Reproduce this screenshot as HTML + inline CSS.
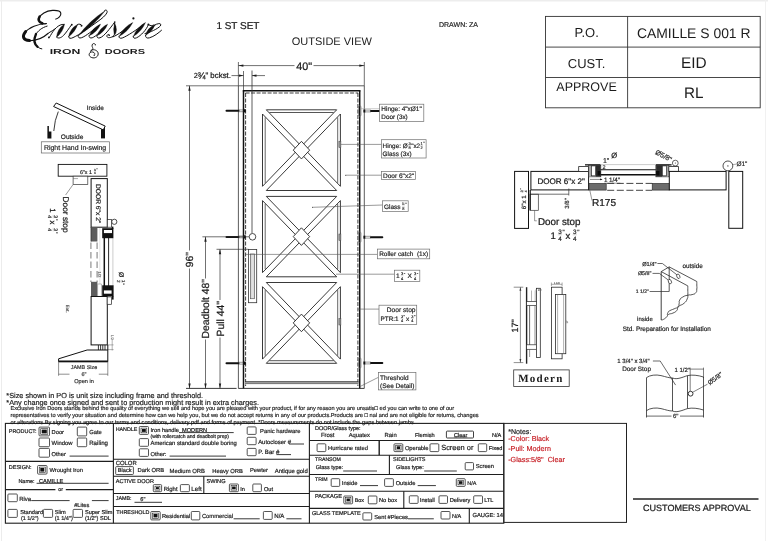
<!DOCTYPE html>
<html lang="en">
<head>
<meta charset="utf-8">
<title>Exclusive Iron Doors - CAMILLE S 001 R</title>
<style>
html,body{margin:0;padding:0;background:#fff;}
body{width:768px;height:541px;overflow:hidden;font-family:"Liberation Sans",sans-serif;}
svg{display:block;position:absolute;left:0;top:0;will-change:transform;}
svg text{font-family:"Liberation Sans",sans-serif;white-space:pre;text-rendering:geometricPrecision;}
</style>
</head>
<body>
<svg width="768" height="541" viewBox="0 0 768 541">
<rect x="0" y="0" width="768" height="541" fill="#ffffff"/>
<g fill="#1c1c1c">
<line x1="1.5" y1="0" x2="1.5" y2="541" stroke="#ececec" stroke-width="1"/>
<line x1="0" y1="0.8" x2="768" y2="0.8" stroke="#ededed" stroke-width="1.6"/>
<line x1="765.5" y1="0" x2="765.5" y2="541" stroke="#f1f1f1" stroke-width="1"/>
<path d="M55.3 19.3 C58.5 18.6 61.3 15.8 60.8 13.2 C60.3 10.8 56.5 10.2 52.5 10.4 C46 10.9 40.5 14.3 38.9 18.3" fill="none" stroke="#111" stroke-width="1.15" />
<path d="M39.6 16.6 C37.8 19.6 38.6 22.2 42.2 23.3" fill="none" stroke="#111" stroke-width="2.6" stroke-linecap="round"/>
<path d="M42 23.3 C43.4 23.7 45 23.9 47 23.6" fill="none" stroke="#111" stroke-width="1" />
<path d="M46 23.8 C38 23.8 29 27.5 25 32.6" fill="none" stroke="#111" stroke-width="1.1" />
<path d="M25.6 31.6 C21.6 36.6 23.4 40.3 29.5 40.6" fill="none" stroke="#111" stroke-width="3" stroke-linecap="round"/>
<path d="M29.5 40.7 C37 40.8 44 37.2 48.6 33" fill="none" stroke="#111" stroke-width="1.1" />
<path d="M47.5 26 C42 27.5 37.5 31 35.6 35" fill="none" stroke="#111" stroke-width="1" />
<path d="M36 34 C33.5 39.5 34 44 37.6 46.9" fill="none" stroke="#111" stroke-width="2.3" stroke-linecap="round"/>
<path d="M37.5 46.8 C39 48 40.5 48.7 42.2 48.9" fill="none" stroke="#111" stroke-width="1" />
<path d="M48.5 33 C51 31.6 53.5 30 56 28.2" fill="none" stroke="#111" stroke-width="1" />
<path d="M64.6 24 Q57.25 28.78 56.4 37.5 Q62.89 32.2 64.6 24 Z" fill="#111" stroke="#111" stroke-width="0.35" />
<path d="M64.2 24.4 C58.5 23.8 53.5 30 50.6 35.4 C50 36.6 49.4 37.4 48.7 37.6" fill="none" stroke="#111" stroke-width="1" />
<circle cx="48.9" cy="37.4" r="0.9" fill="#111" stroke="#1c1c1c" stroke-width="0"/>
<path d="M56.6 37 C58 38.8 61 38 63.4 35.6 C66.4 32.4 69.2 28 71.4 25" fill="none" stroke="#111" stroke-width="1" />
<circle cx="71.8" cy="24.7" r="0.9" fill="#111" stroke="#1c1c1c" stroke-width="0"/>
<path d="M77.4 24.6 C79 23.7 81.2 24.2 81.7 25.6" fill="none" stroke="#111" stroke-width="1" />
<circle cx="81.5" cy="25.8" r="0.95" fill="#111" stroke="#1c1c1c" stroke-width="0"/>
<path d="M77.9 24.2 Q69.98 28.23 68.5 37 Q75.13 32.02 77.9 24.2 Z" fill="#111" stroke="#111" stroke-width="0.35" />
<path d="M68.6 36.4 C68.6 38.6 70.8 38.8 73 37.6 C80 34.5 90 27 98 21.3 C102 18.5 105.6 15.5 106.9 12.8 C107.6 11 106.8 10 105.5 10.1 C104.8 10.2 104.5 10.6 104.5 11.2" fill="none" stroke="#111" stroke-width="1" />
<path d="M105 10.8 Q89.39 20.89 78.3 35.8 Q93.91 25.71 105 10.8 Z" fill="#111" stroke="#111" stroke-width="0.35" />
<path d="M78.2 35.2 C77.8 37.6 79.3 38.4 81.3 37.8 C86 36.3 93 30 99.6 24.9" fill="none" stroke="#111" stroke-width="1" />
<path d="M100.6 24.2 Q92.48 27.62 89.2 35.8 Q97.04 32.1 100.6 24.2 Z" fill="#111" stroke="#111" stroke-width="0.35" />
<path d="M89.1 35.2 C88.8 37.6 90.2 38.4 92.2 37.8 C96 36.5 102 30 106.6 25" fill="none" stroke="#111" stroke-width="1" />
<path d="M107.6 24.2 Q99.79 27.71 97 35.8 Q104.51 32.02 107.6 24.2 Z" fill="#111" stroke="#111" stroke-width="0.35" />
<path d="M96.9 35.2 C96.6 37.6 98 38.4 100 37.8 C104 36.5 110 28.5 114.6 22.2" fill="none" stroke="#111" stroke-width="1" />
<circle cx="114.8" cy="22.1" r="0.8" fill="#111" stroke="#1c1c1c" stroke-width="0"/>
<path d="M114.6 22.5 C114.3 26 116.6 29.5 115.7 32.5 C114.8 35.6 111.5 38 108.5 37.6 C106.8 37.3 106.3 35.8 107.5 34.8 C108.3 34.2 109.3 34.5 109.3 35.4" fill="none" stroke="#111" stroke-width="1" />
<path d="M114.6 23.5 Q112.8 29.19 114.2 35 Q118.4 29.39 114.6 23.5 Z" fill="#111" stroke="#111" stroke-width="0.35" />
<circle cx="109.2" cy="35.3" r="0.8" fill="#111" stroke="#1c1c1c" stroke-width="0"/>
<path d="M112.6 37 C118 35 126 28.6 131.8 23.4" fill="none" stroke="#111" stroke-width="1" />
<path d="M132.8 22.5 Q123.53 27.06 119.1 36.4 Q128.09 31.56 132.8 22.5 Z" fill="#111" stroke="#111" stroke-width="0.35" />
<circle cx="133.4" cy="18.4" r="1.1" fill="#111" stroke="#1c1c1c" stroke-width="0"/>
<path d="M119 35.9 C118.7 38 120.2 38.7 122.2 38 C127 36.3 138 29 144.4 23.6" fill="none" stroke="#111" stroke-width="1" />
<path d="M145.5 22.5 Q136.84 27.21 133.3 36.4 Q141.65 31.43 145.5 22.5 Z" fill="#111" stroke="#111" stroke-width="0.35" />
<path d="M133.2 35.9 C133 38.2 134.5 38.7 136.5 37.8 C141 35.8 146.5 29.5 148.2 25" fill="none" stroke="#111" stroke-width="1" />
<circle cx="148.4" cy="24.4" r="1" fill="#111" stroke="#1c1c1c" stroke-width="0"/>
<path d="M148.6 24.6 C150 26 152.5 25.8 154.2 24.8" fill="none" stroke="#111" stroke-width="1" />
<path d="M144.6 33.6 C150 32.6 158 28.6 160.3 26 C161.5 24.5 160.5 23.4 158.8 23.6 C157 23.8 155.5 24.5 154.3 25.5" fill="none" stroke="#111" stroke-width="1" />
<path d="M155.3 24.6 Q147.55 27.39 145.6 35.4 Q152.31 31.67 155.3 24.6 Z" fill="#111" stroke="#111" stroke-width="0.35" />
<path d="M145.6 34.8 C145.2 37.6 147 38.6 149.5 37.8 C154 36.5 158.5 33 161.8 30" fill="none" stroke="#111" stroke-width="1" />
<text x="49.7" y="53.8" font-size="7.2" font-weight="bold" textLength="30.6" lengthAdjust="spacingAndGlyphs" fill="#1a1a1a">IRON</text>
<text x="104.8" y="53.8" font-size="7.2" font-weight="bold" textLength="40.2" lengthAdjust="spacingAndGlyphs" fill="#1a1a1a">DOORS</text>
<path d="M95.4 44.6 C94.6 43 92.6 43.2 92.1 45 C91.6 47 93.6 48 92.6 49.6 C91.8 50.8 90.2 51 90.2 52.4" fill="none" stroke="#111" stroke-width="0.9" />
<path d="M90.6 50.4 C94 48.6 98.4 50.6 98.2 54 C98 57.6 93.5 59 90.6 57 C88.2 55.3 89 52.6 91.5 52 C93.5 51.6 95 53 94.8 54.6" fill="none" stroke="#111" stroke-width="0.95" />
<circle cx="94.2" cy="55.2" r="0.7" fill="#111" stroke="#1c1c1c" stroke-width="0"/>
<circle cx="95.3" cy="44.8" r="0.6" fill="#111" stroke="#1c1c1c" stroke-width="0"/>
<text x="216.4" y="29.39" font-size="9.96" stroke="#1c1c1c" stroke-width="0.24" >1 ST SET</text>
<text x="291.8" y="44.56" font-size="11.01" >OUTSIDE VIEW</text>
<text x="439" y="27.12" font-size="7" stroke="#1c1c1c" stroke-width="0.18" >DRAWN: ZA</text>
<rect x="545.5" y="16.4" width="214.7" height="91.4" fill="none" stroke="#333" stroke-width="0.9"/>
<line x1="627.6" y1="16.4" x2="627.6" y2="107.8" stroke="#333" stroke-width="0.9"/>
<line x1="545.5" y1="47.1" x2="760.2" y2="47.1" stroke="#333" stroke-width="0.9"/>
<line x1="545.5" y1="77.5" x2="760.2" y2="77.5" stroke="#333" stroke-width="0.9"/>
<text x="586.7" y="37.18" font-size="13" text-anchor="middle" >P.O.</text>
<text x="636.9" y="37.51" font-size="13.92" >CAMILLE S 001 R</text>
<text x="567.8" y="67.57" font-size="12.98" >CUST.</text>
<text x="680.9" y="68.45" font-size="15.42" >EID</text>
<text x="556.3" y="90.6" font-size="12.51" >APPROVE</text>
<text x="684" y="98.49" font-size="15.25" >RL</text>
<polygon points="47.4,126 48.9,126 48.9,131.5 51.4,131.5 51.4,138.4 47.4,138.4" fill="#111" stroke="none" stroke-linejoin="miter"/>
<rect x="101" y="126" width="4" height="12.4" fill="#111" stroke="none"/>
<polygon points="56.2,103 105.2,126.1 103.3,129.9 53.6,106.5" fill="#fff" stroke="#111" stroke-width="1" stroke-linejoin="miter"/>
<path d="M58.3 111.6 Q54.6 120 53.8 131" fill="none" stroke="#222" stroke-width="0.9" />
<text x="86.6" y="109.95" font-size="6.52" stroke="#1c1c1c" stroke-width="0.18" >Inside</text>
<text x="60.8" y="138.86" font-size="6.56" stroke="#1c1c1c" stroke-width="0.18" >Outside</text>
<rect x="41.3" y="141.8" width="68.2" height="11.2" fill="none" stroke="#666" stroke-width="0.7"/>
<text x="44" y="150.09" font-size="6.91" stroke="#1c1c1c" stroke-width="0.18" >Right Hand In-swing</text>
<rect x="58.2" y="164.4" width="48.7" height="11.8" fill="#fff" stroke="#111" stroke-width="0.9"/>
<text x="80" y="173.51" font-size="5.3" stroke="#1c1c1c" stroke-width="0.18" >6"x 1</text>
<text x="94.9" y="170.62" font-size="3" text-anchor="middle" stroke="#1c1c1c" stroke-width="0.14" >3</text>
<line x1="93.88" y1="171.13" x2="95.92" y2="171.13" stroke="#666" stroke-width="0.3"/>
<text x="94.9" y="173.98" font-size="3" text-anchor="middle" stroke="#1c1c1c" stroke-width="0.14" >4</text>
<text x="96.14" y="171.21" font-size="3.8" stroke="#1c1c1c" stroke-width="0.14" >"</text>
<rect x="73.1" y="176.2" width="14.7" height="8.3" fill="#fff" stroke="#333" stroke-width="0.7"/>
<line x1="73.1" y1="178.6" x2="78" y2="178.6" stroke="#555" stroke-width="0.5"/>
<line x1="73.1" y1="184.5" x2="65.6" y2="195" stroke="#555" stroke-width="0.6"/>
<text x="65.5" y="217.59" font-size="8.3" text-anchor="middle" transform="rotate(90 65.5 214.6)" stroke="#1c1c1c" stroke-width="0.24" >Door stop</text>
<g transform="rotate(90 53.8 220.5)">
<text x="41.6" y="224.41" font-size="7.8" stroke="#1c1c1c" stroke-width="0.24" >1</text>
<text x="49.9" y="220.27" font-size="5.1" text-anchor="middle" stroke="#1c1c1c" stroke-width="0.18" >3</text>
<line x1="48.17" y1="221.14" x2="51.63" y2="221.14" stroke="#666" stroke-width="0.3"/>
<text x="49.9" y="225.99" font-size="5.1" text-anchor="middle" stroke="#1c1c1c" stroke-width="0.18" >4</text>
<text x="51.94" y="220.75" font-size="5" stroke="#1c1c1c" stroke-width="0.14" >"</text>
<text x="53.7" y="224.41" font-size="7.8" stroke="#1c1c1c" stroke-width="0.24" >x</text>
<text x="62.9" y="220.27" font-size="5.1" text-anchor="middle" stroke="#1c1c1c" stroke-width="0.18" >3</text>
<line x1="61.17" y1="221.14" x2="64.63" y2="221.14" stroke="#666" stroke-width="0.3"/>
<text x="62.9" y="225.99" font-size="5.1" text-anchor="middle" stroke="#1c1c1c" stroke-width="0.18" >4</text>
<text x="64.94" y="220.75" font-size="5" stroke="#1c1c1c" stroke-width="0.14" >"</text>
</g>
<rect x="91.1" y="178.6" width="16.2" height="48.6" fill="#fff" stroke="#111" stroke-width="1"/>
<text x="98.6" y="206.01" font-size="6.7" text-anchor="middle" transform="rotate(90 98.6 203.6)" stroke="#1c1c1c" stroke-width="0.18" >DOOR 6"x 2"</text>
<rect x="107.3" y="219.4" width="4.3" height="7.8" fill="#fff" stroke="#222" stroke-width="0.7"/>
<circle cx="114.3" cy="221.8" r="2.6" fill="#fff" stroke="#222" stroke-width="0.8"/>
<rect x="91" y="227.2" width="6.4" height="14.3" fill="#5c5c5c" stroke="none"/>
<line x1="91" y1="227.2" x2="91" y2="241.5" stroke="#333" stroke-width="0.8"/>
<line x1="90.9" y1="242.5" x2="90.9" y2="282" stroke="#999" stroke-width="1.3" stroke-dasharray="6.5 3"/>
<line x1="97.1" y1="242.5" x2="97.1" y2="282" stroke="#999" stroke-width="1.3" stroke-dasharray="6.5 3"/>
<line x1="99.8" y1="228" x2="99.8" y2="296" stroke="#ddd" stroke-width="0.8"/>
<line x1="112.9" y1="238" x2="112.9" y2="286" stroke="#ccc" stroke-width="1"/>
<line x1="104.3" y1="237" x2="104.3" y2="286" stroke="#111" stroke-width="1.5"/>
<line x1="108.6" y1="237" x2="108.6" y2="286" stroke="#111" stroke-width="0.9"/>
<rect x="102.2" y="228.2" width="11.2" height="10" fill="#111" stroke="none"/>
<rect x="103.9" y="230" width="8.1" height="3.1" fill="#fff" stroke="none"/>
<rect x="111.6" y="226.6" width="1.8" height="2.4" fill="#111" stroke="none"/>
<rect x="91" y="281.8" width="6.4" height="14.4" fill="#5c5c5c" stroke="none"/>
<rect x="97.8" y="284" width="3.6" height="12.2" fill="#fff" stroke="#777" stroke-width="0.5"/>
<rect x="102.2" y="285.3" width="11.4" height="11.1" fill="#111" stroke="none"/>
<rect x="103.9" y="290.4" width="7.7" height="3.3" fill="#fff" stroke="none"/>
<rect x="111.8" y="296" width="1.8" height="3.6" fill="#111" stroke="none"/>
<text x="99.8" y="276.01" font-size="4.2" text-anchor="middle" fill="#666" transform="rotate(90 99.8 274.5)" stroke="#666" stroke-width="0.14" >1/2</text>
<g transform="rotate(90 121 278)">
<text x="115" y="280.15" font-size="6.8" stroke="#1c1c1c" stroke-width="0.18" >Ø</text>
<text x="124.3" y="277.06" font-size="4.4" text-anchor="middle" stroke="#1c1c1c" stroke-width="0.14" >1</text>
<line x1="122.8" y1="277.8" x2="125.8" y2="277.8" stroke="#666" stroke-width="0.3"/>
<text x="124.3" y="281.98" font-size="4.4" text-anchor="middle" stroke="#1c1c1c" stroke-width="0.14" >2</text>
<text x="126.07" y="277.64" font-size="4.8" stroke="#1c1c1c" stroke-width="0.14" >"</text>
</g>
<rect x="91.1" y="296.5" width="16.2" height="48.4" fill="#fff" stroke="#111" stroke-width="1"/>
<rect x="107.2" y="296.9" width="4.4" height="7.4" fill="#fff" stroke="#222" stroke-width="0.7"/>
<text x="67.9" y="310.46" font-size="4.6" text-anchor="middle" fill="#444" transform="rotate(90 67.9 308.8)" stroke="#444" stroke-width="0.14" >Ext.</text>
<line x1="98.4" y1="345" x2="98.4" y2="350" stroke="#222" stroke-width="0.9"/>
<line x1="100.6" y1="345" x2="100.6" y2="350" stroke="#222" stroke-width="0.9"/>
<line x1="102.8" y1="345" x2="102.8" y2="350" stroke="#222" stroke-width="0.9"/>
<line x1="105" y1="345" x2="105" y2="350" stroke="#222" stroke-width="0.9"/>
<line x1="112.2" y1="339" x2="112.2" y2="350.5" stroke="#666" stroke-width="0.5"/>
<line x1="107.8" y1="344.9" x2="113.6" y2="344.9" stroke="#666" stroke-width="0.5"/>
<line x1="107.8" y1="349.6" x2="113.6" y2="349.6" stroke="#666" stroke-width="0.5"/>
<text x="112.4" y="338.5" font-size="3.6" text-anchor="middle" fill="#666" transform="rotate(90 112.4 337.2)" stroke="#666" stroke-width="0.14" >1/2</text>
<path d="M107.8 344.9 V361.6 H58.6 V358.8 L87.1 350 H107.8" fill="none" stroke="#111" stroke-width="1" />
<line x1="58.6" y1="361.4" x2="107.8" y2="361.4" stroke="#111" stroke-width="1.6"/>
<line x1="58.6" y1="361.6" x2="58.6" y2="375.8" stroke="#444" stroke-width="0.6"/>
<line x1="107.8" y1="361.6" x2="107.8" y2="375.8" stroke="#444" stroke-width="0.6"/>
<line x1="58.6" y1="374.2" x2="69.5" y2="374.2" stroke="#444" stroke-width="0.6"/>
<line x1="98.8" y1="374.2" x2="107.8" y2="374.2" stroke="#444" stroke-width="0.6"/>
<text x="84" y="368.94" font-size="5.4" text-anchor="middle" fill="#333" stroke="#333" stroke-width="0.18" >JAMB Size</text>
<text x="84" y="375.84" font-size="5.4" text-anchor="middle" fill="#333" stroke="#333" stroke-width="0.18" >6"</text>
<text x="84" y="383.02" font-size="5.6" text-anchor="middle" fill="#333" stroke="#333" stroke-width="0.18" >Open in</text>
<line x1="238.4" y1="85.8" x2="238.4" y2="388.4" stroke="#333" stroke-width="0.8"/>
<line x1="364.3" y1="85.8" x2="364.3" y2="388.4" stroke="#333" stroke-width="0.8"/>
<line x1="238.4" y1="85.8" x2="364.3" y2="85.8" stroke="#333" stroke-width="0.8"/>
<line x1="243.5" y1="90.6" x2="243.5" y2="388.4" stroke="#111" stroke-width="1.5"/>
<line x1="359.7" y1="90.6" x2="359.7" y2="388.4" stroke="#111" stroke-width="1.5"/>
<line x1="242.8" y1="90.8" x2="360.4" y2="90.8" stroke="#111" stroke-width="1.5"/>
<line x1="245.6" y1="93" x2="245.6" y2="386" stroke="#1c1c1c" stroke-width="0.85" stroke-dasharray="4 1.5"/>
<line x1="357.9" y1="93" x2="357.9" y2="386" stroke="#1c1c1c" stroke-width="0.85" stroke-dasharray="4 1.5"/>
<line x1="245.6" y1="93" x2="358" y2="93" stroke="#1c1c1c" stroke-width="0.85" stroke-dasharray="4 1.5"/>
<line x1="245" y1="381.7" x2="358.5" y2="381.7" stroke="#333" stroke-width="0.9"/>
<line x1="245" y1="383.6" x2="358.5" y2="383.6" stroke="#555" stroke-width="0.9"/>
<line x1="245" y1="382.6" x2="358.5" y2="382.6" stroke="#999" stroke-width="1.2"/>
<line x1="238.4" y1="388.4" x2="364.3" y2="388.4" stroke="#222" stroke-width="0.9"/>
<line x1="186" y1="388.4" x2="236.6" y2="388.4" stroke="#222" stroke-width="0.9"/>
<polygon points="266.3,109.8 336.7,109.8 301.45,146.21" fill="none" stroke="#222" stroke-width="0.9" stroke-linejoin="miter"/>
<polygon points="266.3,190.5 336.7,190.5 301.45,154.09" fill="none" stroke="#222" stroke-width="0.9" stroke-linejoin="miter"/>
<polygon points="262.5,114 262.5,186.3 297.4,150.15" fill="none" stroke="#222" stroke-width="0.9" stroke-linejoin="miter"/>
<polygon points="340.4,114 340.4,186.3 305.5,150.15" fill="none" stroke="#222" stroke-width="0.9" stroke-linejoin="miter"/>
<line x1="265.2" y1="117.4" x2="265.2" y2="182.9" stroke="#333" stroke-width="0.75"/>
<line x1="337.7" y1="117.4" x2="337.7" y2="182.9" stroke="#333" stroke-width="0.75"/>
<line x1="269.41" y1="112.5" x2="333.59" y2="112.5" stroke="#2a2a2a" stroke-width="0.8"/>
<polygon points="293.25,150.15 301.45,141.35 309.65,150.15 301.45,158.95" fill="#fff" stroke="#222" stroke-width="0.9" stroke-linejoin="miter"/>
<polygon points="266.3,196.4 336.7,196.4 301.45,232.68" fill="none" stroke="#222" stroke-width="0.9" stroke-linejoin="miter"/>
<polygon points="266.3,276.8 336.7,276.8 301.45,240.52" fill="none" stroke="#222" stroke-width="0.9" stroke-linejoin="miter"/>
<polygon points="262.5,200.6 262.5,272.6 297.38,236.6" fill="none" stroke="#222" stroke-width="0.9" stroke-linejoin="miter"/>
<polygon points="340.4,200.6 340.4,272.6 305.52,236.6" fill="none" stroke="#222" stroke-width="0.9" stroke-linejoin="miter"/>
<line x1="265.2" y1="203.99" x2="265.2" y2="269.21" stroke="#333" stroke-width="0.75"/>
<line x1="337.7" y1="203.99" x2="337.7" y2="269.21" stroke="#333" stroke-width="0.75"/>
<polygon points="293.25,236.6 301.45,227.8 309.65,236.6 301.45,245.4" fill="#fff" stroke="#222" stroke-width="0.9" stroke-linejoin="miter"/>
<polygon points="266.3,282.5 336.7,282.5 301.45,318.96" fill="none" stroke="#222" stroke-width="0.9" stroke-linejoin="miter"/>
<polygon points="266.3,363.3 336.7,363.3 301.45,326.84" fill="none" stroke="#222" stroke-width="0.9" stroke-linejoin="miter"/>
<polygon points="262.5,286.7 262.5,359.1 297.4,322.9" fill="none" stroke="#222" stroke-width="0.9" stroke-linejoin="miter"/>
<polygon points="340.4,286.7 340.4,359.1 305.5,322.9" fill="none" stroke="#222" stroke-width="0.9" stroke-linejoin="miter"/>
<line x1="265.2" y1="290.1" x2="265.2" y2="355.7" stroke="#333" stroke-width="0.75"/>
<line x1="337.7" y1="290.1" x2="337.7" y2="355.7" stroke="#333" stroke-width="0.75"/>
<line x1="269.31" y1="360.7" x2="333.69" y2="360.7" stroke="#2a2a2a" stroke-width="0.8"/>
<polygon points="293.25,322.9 301.45,314.1 309.65,322.9 301.45,331.7" fill="#fff" stroke="#222" stroke-width="0.9" stroke-linejoin="miter"/>
<rect x="338.9" y="141.2" width="2" height="6.4" fill="#999" stroke="#444" stroke-width="0.5"/>
<rect x="338.9" y="234" width="2" height="6.4" fill="#999" stroke="#444" stroke-width="0.5"/>
<rect x="338.9" y="318.6" width="2" height="6.4" fill="#999" stroke="#444" stroke-width="0.5"/>
<line x1="226.5" y1="110.8" x2="238.5" y2="110.8" stroke="#111" stroke-width="2" stroke-linecap="round"/>
<line x1="238.5" y1="109.9" x2="244" y2="109.9" stroke="#333" stroke-width="0.5"/>
<line x1="238.5" y1="111.7" x2="244" y2="111.7" stroke="#333" stroke-width="0.5"/>
<rect x="243.6" y="109.2" width="2.2" height="3.2" fill="#111" stroke="none"/>
<line x1="226.5" y1="236.9" x2="238.5" y2="236.9" stroke="#111" stroke-width="2" stroke-linecap="round"/>
<line x1="238.5" y1="236" x2="244" y2="236" stroke="#333" stroke-width="0.5"/>
<line x1="238.5" y1="237.8" x2="244" y2="237.8" stroke="#333" stroke-width="0.5"/>
<rect x="243.6" y="235.3" width="2.2" height="3.2" fill="#111" stroke="none"/>
<line x1="226.5" y1="363.2" x2="238.5" y2="363.2" stroke="#111" stroke-width="2" stroke-linecap="round"/>
<line x1="238.5" y1="362.3" x2="244" y2="362.3" stroke="#333" stroke-width="0.5"/>
<line x1="238.5" y1="364.1" x2="244" y2="364.1" stroke="#333" stroke-width="0.5"/>
<rect x="243.6" y="361.6" width="2.2" height="3.2" fill="#111" stroke="none"/>
<rect x="358.4" y="105.8" width="2.6" height="10.4" fill="none" stroke="#666" stroke-width="0.6" rx="1.2"/>
<rect x="363.4" y="109.5" width="1.9" height="3" fill="#111" stroke="none"/>
<line x1="365" y1="110.1" x2="371" y2="110.1" stroke="#333" stroke-width="0.5"/>
<line x1="365" y1="111.9" x2="371" y2="111.9" stroke="#333" stroke-width="0.5"/>
<line x1="371" y1="111" x2="381.5" y2="111" stroke="#111" stroke-width="2" stroke-linecap="round"/>
<rect x="358.4" y="232" width="2.6" height="10.4" fill="none" stroke="#666" stroke-width="0.6" rx="1.2"/>
<rect x="363.4" y="235.7" width="1.9" height="3" fill="#111" stroke="none"/>
<line x1="365" y1="236.3" x2="371" y2="236.3" stroke="#333" stroke-width="0.5"/>
<line x1="365" y1="238.1" x2="371" y2="238.1" stroke="#333" stroke-width="0.5"/>
<line x1="371" y1="237.2" x2="382.3" y2="237.2" stroke="#111" stroke-width="2" stroke-linecap="round"/>
<rect x="358.4" y="357.8" width="2.6" height="10.4" fill="none" stroke="#666" stroke-width="0.6" rx="1.2"/>
<rect x="363.4" y="361.5" width="1.9" height="3" fill="#111" stroke="none"/>
<line x1="365" y1="362.1" x2="371" y2="362.1" stroke="#333" stroke-width="0.5"/>
<line x1="365" y1="363.9" x2="371" y2="363.9" stroke="#333" stroke-width="0.5"/>
<line x1="371" y1="363" x2="382.3" y2="363" stroke="#111" stroke-width="2" stroke-linecap="round"/>
<line x1="252" y1="70.5" x2="252" y2="233.4" stroke="#333" stroke-width="0.8"/>
<circle cx="252.5" cy="236.8" r="3.3" fill="#fff" stroke="#222" stroke-width="0.8"/>
<rect x="248.5" y="249.4" width="8.2" height="53.3" fill="#fff" stroke="#333" stroke-width="0.8"/>
<rect x="250.5" y="254" width="4" height="44.7" fill="#fff" stroke="#555" stroke-width="0.7"/>
<line x1="251.8" y1="255" x2="251.8" y2="298" stroke="#999" stroke-width="0.5"/>
<line x1="253.2" y1="255" x2="253.2" y2="298" stroke="#999" stroke-width="0.5"/>
<line x1="238.4" y1="62" x2="238.4" y2="85.8" stroke="#333" stroke-width="0.7"/>
<line x1="364.3" y1="62" x2="364.3" y2="85.8" stroke="#333" stroke-width="0.7"/>
<line x1="238.4" y1="65.6" x2="294.5" y2="65.6" stroke="#333" stroke-width="0.7"/>
<line x1="313.5" y1="65.6" x2="364.3" y2="65.6" stroke="#333" stroke-width="0.7"/>
<polygon points="238.4,65.6 243.4,64.4 243.4,66.8" fill="#1c1c1c" stroke="none" stroke-linejoin="miter"/>
<polygon points="364.3,65.6 359.3,66.8 359.3,64.4" fill="#1c1c1c" stroke="none" stroke-linejoin="miter"/>
<text x="296.2" y="69.88" font-size="10.77" stroke="#1c1c1c" stroke-width="0.24" >40"</text>
<text x="193.8" y="78.46" font-size="7.4" stroke="#1c1c1c" stroke-width="0.18" >2</text>
<text x="197.6" y="78.86" font-size="9.6" stroke="#1c1c1c" stroke-width="0.24" >¾</text>
<text x="205.4" y="78.04" font-size="7.89" stroke="#1c1c1c" stroke-width="0.24" >" bckst.</text>
<line x1="231.5" y1="75.6" x2="243.5" y2="75.6" stroke="#333" stroke-width="0.7"/>
<polygon points="243.5,75.6 239,76.8 239,74.4" fill="#1c1c1c" stroke="none" stroke-linejoin="miter"/>
<line x1="243.5" y1="71" x2="243.5" y2="90" stroke="#333" stroke-width="0.7"/>
<line x1="252" y1="75.6" x2="265" y2="75.6" stroke="#333" stroke-width="0.7"/>
<polygon points="252,75.6 256.5,74.4 256.5,76.8" fill="#1c1c1c" stroke="none" stroke-linejoin="miter"/>
<line x1="186" y1="85.8" x2="238.4" y2="85.8" stroke="#333" stroke-width="0.7"/>
<line x1="189.5" y1="85.8" x2="189.5" y2="250.5" stroke="#333" stroke-width="0.7"/>
<line x1="189.5" y1="268.5" x2="189.5" y2="388.4" stroke="#333" stroke-width="0.7"/>
<polygon points="189.5,85.8 190.7,90.8 188.3,90.8" fill="#1c1c1c" stroke="none" stroke-linejoin="miter"/>
<polygon points="189.5,388.4 188.3,383.4 190.7,383.4" fill="#1c1c1c" stroke="none" stroke-linejoin="miter"/>
<text x="189.5" y="263.31" font-size="10.3" text-anchor="middle" transform="rotate(-90 189.5 259.6)" stroke="#1c1c1c" stroke-width="0.24" >96"</text>
<line x1="202.4" y1="236.8" x2="249" y2="236.8" stroke="#333" stroke-width="0.7"/>
<line x1="205.5" y1="236.8" x2="205.5" y2="278.5" stroke="#333" stroke-width="0.7"/>
<line x1="205.5" y1="339.5" x2="205.5" y2="388.4" stroke="#333" stroke-width="0.7"/>
<polygon points="205.5,236.8 206.7,241.8 204.3,241.8" fill="#1c1c1c" stroke="none" stroke-linejoin="miter"/>
<polygon points="205.5,388.4 204.3,383.4 206.7,383.4" fill="#1c1c1c" stroke="none" stroke-linejoin="miter"/>
<text x="205.5" y="312.51" font-size="10.3" text-anchor="middle" transform="rotate(-90 205.5 308.8)" stroke="#1c1c1c" stroke-width="0.24" >Deadbolt 48"</text>
<line x1="216.5" y1="249.3" x2="248.5" y2="249.3" stroke="#333" stroke-width="0.7"/>
<line x1="220" y1="249.3" x2="220" y2="300" stroke="#333" stroke-width="0.7"/>
<line x1="220" y1="337.5" x2="220" y2="388.4" stroke="#333" stroke-width="0.7"/>
<polygon points="220,249.3 221.2,254.3 218.8,254.3" fill="#1c1c1c" stroke="none" stroke-linejoin="miter"/>
<polygon points="220,388.4 218.8,383.4 221.2,383.4" fill="#1c1c1c" stroke="none" stroke-linejoin="miter"/>
<text x="220" y="322.44" font-size="10.4" text-anchor="middle" transform="rotate(-90 220 318.7)" stroke="#1c1c1c" stroke-width="0.24" >Pull 44"</text>
<line x1="360.5" y1="108.7" x2="379.5" y2="108.7" stroke="#999" stroke-width="0.5"/>
<rect x="379.5" y="104.2" width="44.3" height="17.2" fill="#fff" stroke="#6e6e6e" stroke-width="0.7"/>
<text x="381.3" y="111.03" font-size="6.46" stroke="#1c1c1c" stroke-width="0.18" >Hinge: 4"xØ1"</text>
<text x="381.3" y="118.79" font-size="6.35" stroke="#1c1c1c" stroke-width="0.18" >Door (3x)</text>
<line x1="340.9" y1="144.4" x2="381.5" y2="144.4" stroke="#555" stroke-width="0.6"/>
<rect x="381.5" y="139.7" width="44.6" height="18.3" fill="#fff" stroke="#6e6e6e" stroke-width="0.7"/>
<text x="382.6" y="147.89" font-size="6.35" stroke="#1c1c1c" stroke-width="0.18" >Hinge: Ø</text>
<text x="409.6" y="144.59" font-size="3.9" text-anchor="middle" stroke="#1c1c1c" stroke-width="0.14" >3</text>
<line x1="408.27" y1="145.25" x2="410.93" y2="145.25" stroke="#666" stroke-width="0.3"/>
<text x="409.6" y="148.95" font-size="3.9" text-anchor="middle" stroke="#1c1c1c" stroke-width="0.14" >8</text>
<text x="411.2" y="147.89" font-size="6.35" stroke="#1c1c1c" stroke-width="0.18" >"x2</text>
<text x="421.6" y="144.59" font-size="3.9" text-anchor="middle" stroke="#1c1c1c" stroke-width="0.14" >1</text>
<line x1="420.27" y1="145.25" x2="422.93" y2="145.25" stroke="#666" stroke-width="0.3"/>
<text x="421.6" y="148.95" font-size="3.9" text-anchor="middle" stroke="#1c1c1c" stroke-width="0.14" >2</text>
<text x="423.18" y="145.3" font-size="4.8" stroke="#1c1c1c" stroke-width="0.14" >"</text>
<text x="382.6" y="155.59" font-size="6.35" stroke="#1c1c1c" stroke-width="0.18" >Glass (3x)</text>
<line x1="345.7" y1="175.2" x2="381.5" y2="175.2" stroke="#555" stroke-width="0.6"/>
<circle cx="345.7" cy="175.2" r="0.5" fill="#333" stroke="#1c1c1c" stroke-width="0"/>
<rect x="381.5" y="171.6" width="34.1" height="7.8" fill="#fff" stroke="#6e6e6e" stroke-width="0.7"/>
<text x="383" y="177.96" font-size="6.54" stroke="#1c1c1c" stroke-width="0.18" >Door 6"x2"</text>
<line x1="312.5" y1="207.3" x2="382.6" y2="205" stroke="#555" stroke-width="0.6"/>
<circle cx="312.5" cy="207.3" r="0.5" fill="#333" stroke="#1c1c1c" stroke-width="0"/>
<rect x="382.6" y="200.8" width="25.6" height="10.8" fill="#fff" stroke="#6e6e6e" stroke-width="0.7"/>
<text x="384" y="208.94" font-size="6.5" stroke="#1c1c1c" stroke-width="0.18" >Glass</text>
<text x="403.4" y="205.36" font-size="4" text-anchor="middle" stroke="#1c1c1c" stroke-width="0.14" >5</text>
<line x1="402.04" y1="206.04" x2="404.76" y2="206.04" stroke="#666" stroke-width="0.3"/>
<text x="403.4" y="209.84" font-size="4" text-anchor="middle" stroke="#1c1c1c" stroke-width="0.14" >8</text>
<text x="405.02" y="206.05" font-size="4.8" stroke="#1c1c1c" stroke-width="0.14" >"</text>
<line x1="246" y1="254.4" x2="377.4" y2="254.4" stroke="#555" stroke-width="0.6"/>
<rect x="377.4" y="249.1" width="52.3" height="9.7" fill="#fff" stroke="#6e6e6e" stroke-width="0.7"/>
<text x="379.2" y="256.23" font-size="6.48" stroke="#1c1c1c" stroke-width="0.18" >Roller catch  (1x)</text>
<line x1="336" y1="274.2" x2="394.4" y2="274.2" stroke="#555" stroke-width="0.6"/>
<rect x="394.4" y="270.2" width="25.4" height="11.4" fill="#fff" stroke="#6e6e6e" stroke-width="0.7"/>
<text x="396" y="278.38" font-size="6.6" stroke="#1c1c1c" stroke-width="0.18" >1</text>
<text x="402.1" y="275.16" font-size="4" text-anchor="middle" stroke="#1c1c1c" stroke-width="0.14" >3</text>
<line x1="400.74" y1="275.84" x2="403.46" y2="275.84" stroke="#666" stroke-width="0.3"/>
<text x="402.1" y="279.64" font-size="4" text-anchor="middle" stroke="#1c1c1c" stroke-width="0.14" >4</text>
<text x="403.72" y="275.63" font-size="4.2" stroke="#1c1c1c" stroke-width="0.14" >"</text>
<text x="407.4" y="278.38" font-size="6.6" stroke="#1c1c1c" stroke-width="0.18" >X</text>
<text x="415.2" y="275.16" font-size="4" text-anchor="middle" stroke="#1c1c1c" stroke-width="0.14" >3</text>
<line x1="413.84" y1="275.84" x2="416.56" y2="275.84" stroke="#666" stroke-width="0.3"/>
<text x="415.2" y="279.64" font-size="4" text-anchor="middle" stroke="#1c1c1c" stroke-width="0.14" >4</text>
<text x="416.82" y="275.63" font-size="4.2" stroke="#1c1c1c" stroke-width="0.14" >"</text>
<line x1="358" y1="309.1" x2="379" y2="309.1" stroke="#555" stroke-width="0.6"/>
<rect x="379" y="305.2" width="37.7" height="19.2" fill="#fff" stroke="#6e6e6e" stroke-width="0.7"/>
<text x="386.8" y="311.79" font-size="6.64" stroke="#1c1c1c" stroke-width="0.18" >Door stop</text>
<text x="380.5" y="320.8" font-size="6.4" stroke="#1c1c1c" stroke-width="0.18" >PTR:1</text>
<text x="402" y="317.69" font-size="3.9" text-anchor="middle" stroke="#1c1c1c" stroke-width="0.14" >3</text>
<line x1="400.67" y1="318.35" x2="403.33" y2="318.35" stroke="#666" stroke-width="0.3"/>
<text x="402" y="322.05" font-size="3.9" text-anchor="middle" stroke="#1c1c1c" stroke-width="0.14" >4</text>
<text x="403.58" y="318.15" font-size="4.1" stroke="#1c1c1c" stroke-width="0.14" >"</text>
<text x="405.9" y="320.8" font-size="6.4" stroke="#1c1c1c" stroke-width="0.18" >x</text>
<text x="412.3" y="317.69" font-size="3.9" text-anchor="middle" stroke="#1c1c1c" stroke-width="0.14" >3</text>
<line x1="410.97" y1="318.35" x2="413.63" y2="318.35" stroke="#666" stroke-width="0.3"/>
<text x="412.3" y="322.05" font-size="3.9" text-anchor="middle" stroke="#1c1c1c" stroke-width="0.14" >4</text>
<text x="413.88" y="318.15" font-size="4.1" stroke="#1c1c1c" stroke-width="0.14" >"</text>
<line x1="359.5" y1="386.8" x2="378.4" y2="377.3" stroke="#555" stroke-width="0.6"/>
<rect x="378.4" y="372.6" width="37.5" height="17.3" fill="#fff" stroke="#6e6e6e" stroke-width="0.7"/>
<text x="380" y="379.52" font-size="6.45" stroke="#1c1c1c" stroke-width="0.18" >Threshold</text>
<text x="380" y="387.55" font-size="6.52" stroke="#1c1c1c" stroke-width="0.18" >(See Detail)</text>
<rect x="514.6" y="171.4" width="13.9" height="57" fill="#fff" stroke="#111" stroke-width="1"/>
<g transform="rotate(-90 523.6 196)">
<text x="510.4" y="198.23" font-size="6.2" stroke="#1c1c1c" stroke-width="0.18" >6"x 1</text>
<text x="528.4" y="195.12" font-size="3.4" text-anchor="middle" stroke="#1c1c1c" stroke-width="0.14" >3</text>
<line x1="527.24" y1="195.69" x2="529.56" y2="195.69" stroke="#666" stroke-width="0.3"/>
<text x="528.4" y="198.92" font-size="3.4" text-anchor="middle" stroke="#1c1c1c" stroke-width="0.14" >4</text>
<text x="529.79" y="195.74" font-size="4.2" stroke="#1c1c1c" stroke-width="0.14" >"</text>
</g>
<rect x="530.9" y="171.4" width="57.7" height="18.5" fill="#fff" stroke="#111" stroke-width="1"/>
<text x="537.4" y="183.91" font-size="8.08" stroke="#1c1c1c" stroke-width="0.24" >DOOR 6"x 2"</text>
<rect x="530" y="194.2" width="8.3" height="16.1" fill="#fff" stroke="#333" stroke-width="0.7"/>
<line x1="530" y1="194.2" x2="568.8" y2="194.2" stroke="#333" stroke-width="0.7"/>
<line x1="568.8" y1="188.5" x2="568.8" y2="195.5" stroke="#333" stroke-width="0.7"/>
<line x1="530.2" y1="189.9" x2="530.2" y2="210.3" stroke="#111" stroke-width="1.2"/>
<text x="567" y="205.56" font-size="6" text-anchor="middle" transform="rotate(-90 567 203.4)" stroke="#1c1c1c" stroke-width="0.18" >3/8"</text>
<path d="M534.6 210.3 V220.8 H536.8" fill="none" stroke="#555" stroke-width="0.6" />
<text x="537.9" y="224.94" font-size="9.83" stroke="#1c1c1c" stroke-width="0.24" >Door stop</text>
<text x="550.4" y="238.86" font-size="9.6" stroke="#1c1c1c" stroke-width="0.24" >1</text>
<text x="559.9" y="233.76" font-size="6.3" text-anchor="middle" stroke="#1c1c1c" stroke-width="0.18" >3</text>
<line x1="557.76" y1="234.83" x2="562.04" y2="234.83" stroke="#666" stroke-width="0.3"/>
<text x="559.9" y="240.82" font-size="6.3" text-anchor="middle" stroke="#1c1c1c" stroke-width="0.18" >4</text>
<text x="562.39" y="234.36" font-size="6.2" stroke="#1c1c1c" stroke-width="0.18" >"</text>
<text x="565.4" y="239.06" font-size="9.6" stroke="#1c1c1c" stroke-width="0.24" >x</text>
<text x="574.7" y="233.76" font-size="6.3" text-anchor="middle" stroke="#1c1c1c" stroke-width="0.18" >3</text>
<line x1="572.56" y1="234.83" x2="576.84" y2="234.83" stroke="#666" stroke-width="0.3"/>
<text x="574.7" y="240.82" font-size="6.3" text-anchor="middle" stroke="#1c1c1c" stroke-width="0.18" >4</text>
<text x="577.19" y="234.36" font-size="6.2" stroke="#1c1c1c" stroke-width="0.18" >"</text>
<text x="591.9" y="205.63" font-size="10.08" stroke="#1c1c1c" stroke-width="0.24" >R175</text>
<line x1="592" y1="200.5" x2="589.8" y2="190.2" stroke="#555" stroke-width="0.6"/>
<rect x="588.9" y="183.4" width="17.3" height="6.7" fill="#6c6c6c" stroke="#222" stroke-width="0.6"/>
<text x="603.9" y="182.26" font-size="6.28" stroke="#1c1c1c" stroke-width="0.18" >1 1/4"</text>
<line x1="604" y1="183.2" x2="620.4" y2="183.2" stroke="#444" stroke-width="0.5"/>
<line x1="590" y1="179.4" x2="602" y2="179.4" stroke="#333" stroke-width="0.6"/>
<polygon points="602.6,179.4 600,180.3 600,178.5" fill="#1c1c1c" stroke="none" stroke-linejoin="miter"/>
<rect x="578.7" y="166.6" width="9.7" height="4.8" fill="#fff" stroke="#222" stroke-width="0.8"/>
<rect x="588.7" y="165.2" width="12.1" height="11.6" fill="#fff" stroke="#222" stroke-width="0.7"/>
<rect x="589" y="165.4" width="2.4" height="11.2" fill="#a8a8a8" stroke="none"/>
<rect x="595.8" y="165.4" width="4.8" height="11.2" fill="#2c2c2c" stroke="none"/>
<rect x="597.6" y="171" width="3" height="4.4" fill="#0c0c0c" stroke="none"/>
<rect x="591.6" y="165.9" width="3.9" height="9.9" fill="#fff" stroke="#222" stroke-width="0.7"/>
<rect x="585" y="164.2" width="15.6" height="1.3" fill="#1a1a1a" stroke="none"/>
<line x1="600.5" y1="164.6" x2="657" y2="164.6" stroke="#b5b5b5" stroke-width="0.7"/>
<line x1="600.5" y1="169.8" x2="657" y2="169.8" stroke="#111" stroke-width="1.1"/>
<line x1="600.5" y1="174.7" x2="657" y2="174.7" stroke="#111" stroke-width="1.5"/>
<line x1="607.2" y1="183.4" x2="652" y2="183.4" stroke="#222" stroke-width="0.85" stroke-dasharray="7 2.6"/>
<line x1="607.2" y1="190.3" x2="652" y2="190.3" stroke="#222" stroke-width="0.85" stroke-dasharray="7 2.6"/>
<text x="602.9" y="163.32" font-size="7" stroke="#1c1c1c" stroke-width="0.18" >1"</text>
<text x="602.6" y="169.34" font-size="5.4" stroke="#1c1c1c" stroke-width="0.18" >2</text>
<text x="611.2" y="158.24" font-size="7.6" stroke="#1c1c1c" stroke-width="0.24" >Ø</text>
<rect x="655.9" y="165.2" width="12.9" height="11.6" fill="#fff" stroke="#222" stroke-width="0.7"/>
<rect x="656.1" y="165.4" width="5.9" height="11.2" fill="#2c2c2c" stroke="none"/>
<rect x="656.1" y="171" width="3.3" height="4.4" fill="#0c0c0c" stroke="none"/>
<rect x="666.6" y="165.4" width="2" height="11.2" fill="#a8a8a8" stroke="none"/>
<rect x="662.6" y="165.9" width="3.8" height="9.9" fill="#fff" stroke="#222" stroke-width="0.7"/>
<rect x="656.1" y="164.2" width="15.5" height="1.3" fill="#1a1a1a" stroke="none"/>
<rect x="668.8" y="166.6" width="9.6" height="4.8" fill="#fff" stroke="#222" stroke-width="0.8"/>
<circle cx="675.3" cy="163.1" r="2.9" fill="#fff" stroke="#222" stroke-width="0.7"/>
<circle cx="675.3" cy="163.1" r="0.5" fill="#222" stroke="#1c1c1c" stroke-width="0"/>
<text x="663.7" y="158.22" font-size="7" text-anchor="middle" transform="rotate(28 663.7 155.7)" stroke="#1c1c1c" stroke-width="0.18" >Ø5/8"</text>
<rect x="652.2" y="183.4" width="17.1" height="6.7" fill="#6c6c6c" stroke="#222" stroke-width="0.6"/>
<rect x="669.3" y="171.4" width="56.8" height="18.5" fill="#fff" stroke="#111" stroke-width="1"/>
<circle cx="727.9" cy="165.9" r="4.9" fill="#fff" stroke="#222" stroke-width="0.8"/>
<circle cx="727.9" cy="165.9" r="0.6" fill="#222" stroke="#1c1c1c" stroke-width="0"/>
<line x1="732.8" y1="164.6" x2="736" y2="164.2" stroke="#555" stroke-width="0.5"/>
<text x="736.4" y="166.32" font-size="6.45" stroke="#1c1c1c" stroke-width="0.18" >Ø1"</text>
<rect x="728.8" y="171.4" width="13.9" height="56.9" fill="#fff" stroke="#111" stroke-width="1"/>
<text x="642.2" y="265.54" font-size="5.67" stroke="#1c1c1c" stroke-width="0.18" >Ø1/4"</text>
<text x="682.4" y="268.28" font-size="6.33" stroke="#1c1c1c" stroke-width="0.18" >outside</text>
<text x="637.9" y="274.74" font-size="5.39" stroke="#1c1c1c" stroke-width="0.18" >Ø5/8"</text>
<text x="635.7" y="292.84" font-size="5.12" stroke="#1c1c1c" stroke-width="0.18" >1 1/2"</text>
<text x="637.1" y="321.16" font-size="6.01" stroke="#1c1c1c" stroke-width="0.18" >inside</text>
<text x="622.7" y="331.42" font-size="6.43" stroke="#1c1c1c" stroke-width="0.18" >Std. Preparation for Installation</text>
<path d="M657.4 263.5 H662.4 L677.4 275.2" fill="none" stroke="#2a2a2a" stroke-width="0.7" />
<path d="M652.5 273.4 H659.3 L668.8 280.4" fill="none" stroke="#2a2a2a" stroke-width="0.7" />
<line x1="649.6" y1="291.5" x2="669.2" y2="291.5" stroke="#2a2a2a" stroke-width="0.7"/>
<line x1="661.2" y1="271.6" x2="661.2" y2="320" stroke="#2a2a2a" stroke-width="0.9"/>
<line x1="669.2" y1="266.9" x2="669.2" y2="291.5" stroke="#2a2a2a" stroke-width="0.8"/>
<line x1="661.2" y1="271.6" x2="669.2" y2="266.9" stroke="#2a2a2a" stroke-width="0.8"/>
<line x1="661.2" y1="271.6" x2="687.8" y2="285.9" stroke="#2a2a2a" stroke-width="0.8"/>
<line x1="669.2" y1="266.9" x2="696.8" y2="281.5" stroke="#2a2a2a" stroke-width="0.8"/>
<path d="M687.8 285.9 C687.8 287.27 687.8 287.1 687.8 290 C687.8 292.9 688 291.63 687.8 294.6 C687.6 297.57 688.43 296.03 687.2 298.9 C685.97 301.77 686.6 300.93 684.1 303.2 C681.6 305.47 681.77 304.23 679.7 305.7 C677.63 307.17 678.93 305.93 677.9 307.6 C676.87 309.27 678.27 308.87 676.6 310.7 C674.93 312.53 675.57 311.87 672.9 313.1 C670.23 314.33 670.67 313.13 668.6 314.4 C666.53 315.67 668.37 315.27 666.7 316.9 C665.03 318.53 665.43 318.27 663.6 319.3 C661.77 320.33 662 319.77 661.2 320" fill="none" stroke="#2a2a2a" stroke-width="0.8" />
<path d="M696.8 281.5 C696.8 282.67 696.8 282.5 696.8 285 C696.8 287.5 697.13 286.43 696.8 289 C696.47 291.57 697.37 290.83 695.8 292.7 C694.23 294.57 694.77 293.77 692.1 294.6 C689.43 295.43 690.9 294.4 687.8 295.2 C684.7 296 685.5 295.37 682.8 297 C680.1 298.63 680.93 297.83 679.7 300.1 C678.47 302.37 679.7 301.53 679.1 303.8 C678.5 306.07 679.53 305.23 677.9 306.9 C676.27 308.57 676.9 307.53 674.2 308.8 C671.5 310.07 671.87 309.47 669.8 310.7 C667.73 311.93 668.83 311.07 668 312.5 C667.17 313.93 667.53 314.17 667.3 315" fill="none" stroke="#2a2a2a" stroke-width="0.8" />
<ellipse cx="678.3" cy="276.3" rx="1.5" ry="2.3" transform="rotate(-22 678.3 276.3)" fill="#fff" stroke="#2a2a2a" stroke-width="0.7"/>
<ellipse cx="669.9" cy="281.6" rx="1.5" ry="2.3" transform="rotate(-22 669.9 281.6)" fill="#fff" stroke="#2a2a2a" stroke-width="0.7"/>
<text x="514.6" y="329.24" font-size="9" text-anchor="middle" transform="rotate(-90 514.6 326)" stroke="#1c1c1c" stroke-width="0.24" >17"</text>
<line x1="520.4" y1="287.2" x2="520.4" y2="362.6" stroke="#444" stroke-width="0.6"/>
<line x1="513.7" y1="287.2" x2="523.3" y2="287.2" stroke="#444" stroke-width="0.6"/>
<line x1="513.7" y1="362.6" x2="523.3" y2="362.6" stroke="#444" stroke-width="0.6"/>
<polygon points="520.4,287.2 521.3,290.7 519.5,290.7" fill="#333" stroke="none" stroke-linejoin="miter"/>
<polygon points="520.4,362.6 519.5,359.1 521.3,359.1" fill="#333" stroke="none" stroke-linejoin="miter"/>
<line x1="526.6" y1="287.2" x2="526.6" y2="363.7" stroke="#222" stroke-width="1.4"/>
<rect x="536.6" y="288.3" width="3.7" height="69.2" fill="#fff" stroke="#2a2a2a" stroke-width="0.8"/>
<rect x="526.6" y="301.6" width="10" height="4" fill="#fff" stroke="#2a2a2a" stroke-width="0.7"/>
<rect x="526.6" y="344.8" width="10" height="4.5" fill="#fff" stroke="#2a2a2a" stroke-width="0.7"/>
<line x1="529.6" y1="305.6" x2="529.6" y2="344.8" stroke="#2a2a2a" stroke-width="0.7"/>
<line x1="535" y1="305.6" x2="535" y2="344.8" stroke="#444" stroke-width="0.6"/>
<line x1="535.2" y1="290.5" x2="535.2" y2="301.6" stroke="#666" stroke-width="0.5"/>
<line x1="531.5" y1="290.5" x2="531.5" y2="301.6" stroke="#666" stroke-width="0.5"/>
<line x1="529.6" y1="349.3" x2="529.6" y2="357" stroke="#555" stroke-width="0.6"/>
<text x="538.5" y="290.54" font-size="2.6" text-anchor="middle" fill="#666" stroke="#666" stroke-width="0.14" >1 1/2</text>
<rect x="551.4" y="287.2" width="10.7" height="71.6" fill="none" stroke="#2a2a2a" stroke-width="0.8"/>
<rect x="555.4" y="294.5" width="10.4" height="59.2" fill="#fff" stroke="#2a2a2a" stroke-width="0.8"/>
<line x1="557.6" y1="294.5" x2="557.6" y2="353.7" stroke="#666" stroke-width="0.5"/>
<line x1="563.6" y1="294.5" x2="563.6" y2="353.7" stroke="#666" stroke-width="0.5"/>
<line x1="551.4" y1="284.3" x2="562.1" y2="284.3" stroke="#555" stroke-width="0.5"/>
<line x1="551.4" y1="282.5" x2="551.4" y2="286" stroke="#555" stroke-width="0.5"/>
<line x1="562.1" y1="282.5" x2="562.1" y2="286" stroke="#555" stroke-width="0.5"/>
<text x="556.8" y="283.94" font-size="2.6" text-anchor="middle" fill="#555" stroke="#555" stroke-width="0.14" >1 1/2</text>
<text x="566.8" y="322.94" font-size="2.6" text-anchor="middle" fill="#777" transform="rotate(-90 566.8 322)" stroke="#777" stroke-width="0.14" >17</text>
<rect x="513.7" y="369.9" width="55.5" height="16.6" fill="none" stroke="#333" stroke-width="0.8"/>
<text x="518.2" y="381.6" font-size="11" style="font-family:'Liberation Serif',serif" font-weight="bold" letter-spacing="1.25" >Modern</text>
<text x="617.3" y="363.16" font-size="6" stroke="#1c1c1c" stroke-width="0.18" >1 3/4" x 3/4"</text>
<text x="622.2" y="371" font-size="6.4" stroke="#1c1c1c" stroke-width="0.18" >Door Stop</text>
<path d="M652.9 361 H660.2 L675.6 385.1" fill="none" stroke="#2a2a2a" stroke-width="0.7" />
<text x="674.4" y="371.76" font-size="6.01" stroke="#1c1c1c" stroke-width="0.18" >1 1/2"</text>
<line x1="690.2" y1="369.1" x2="703.5" y2="369.1" stroke="#2a2a2a" stroke-width="0.6"/>
<line x1="690.2" y1="367.6" x2="690.2" y2="391.5" stroke="#2a2a2a" stroke-width="0.6"/>
<line x1="703.5" y1="367.6" x2="703.5" y2="378" stroke="#2a2a2a" stroke-width="0.6"/>
<path d="M646.5 377.6 C650 375 656 374.4 661 375.6 C666 376.8 669 378 672.5 378 C677 380 683 377 687.5 375.6 C692 374.6 698 375.2 703.5 377" fill="none" stroke="#2a2a2a" stroke-width="0.8" />
<path d="M646.5 410.6 C650 408 656 407.4 661 408.6 C666 409.8 669 411 672.5 411 C677 413 683 410 687.5 408.6 C692 407.6 698 408.2 703.5 410" fill="none" stroke="#2a2a2a" stroke-width="0.8" />
<line x1="646.5" y1="377.6" x2="646.5" y2="417.5" stroke="#2a2a2a" stroke-width="0.8"/>
<line x1="703.5" y1="377" x2="703.5" y2="417.5" stroke="#2a2a2a" stroke-width="0.8"/>
<line x1="672.5" y1="378" x2="672.5" y2="411" stroke="#2a2a2a" stroke-width="0.8"/>
<line x1="687.5" y1="375.6" x2="687.5" y2="408.6" stroke="#2a2a2a" stroke-width="0.8"/>
<circle cx="690.6" cy="393.7" r="2.4" fill="#fff" stroke="#2a2a2a" stroke-width="0.95"/>
<line x1="692.4" y1="392.4" x2="707.5" y2="384.2" stroke="#2a2a2a" stroke-width="0.6"/>
<text x="715" y="380.78" font-size="6.6" text-anchor="middle" transform="rotate(-36 715 378.4)" stroke="#1c1c1c" stroke-width="0.18" >Ø5/8"</text>
<line x1="646.5" y1="416.1" x2="671.5" y2="416.1" stroke="#2a2a2a" stroke-width="0.7"/>
<line x1="680" y1="416.1" x2="703.5" y2="416.1" stroke="#2a2a2a" stroke-width="0.7"/>
<text x="675.7" y="417.76" font-size="6" text-anchor="middle" stroke="#1c1c1c" stroke-width="0.18" >6"</text>
<text x="6.3" y="397.53" font-size="7.32" stroke="#1c1c1c" stroke-width="0.18" >*Size shown in PO is unit size including frame and threshold.</text>
<text x="6.3" y="404.73" font-size="7.3" stroke="#1c1c1c" stroke-width="0.18" >*Any change once signed and sent to production might result in extra charges.</text>
<text x="10.5" y="410.44" font-size="5.67" fill="#262626" stroke="#262626" stroke-width="0.18" >Exclusive Iron Doors stands behind the quality of everything we sell and hope you are pleased with your product, if for any reason you are unsatis□ ed you can write to one of our</text>
<text x="10.5" y="417.34" font-size="5.68" fill="#262626" stroke="#262626" stroke-width="0.18" >representatives to verify your situation and determine how can we help you, but we do not accept returns in any of our products.Products are □ nal and are not eligible for returns, changes</text>
<text x="10.5" y="424.03" font-size="5.65" fill="#262626" stroke="#262626" stroke-width="0.18" >or alterations.By signing you agree to our terms and conditions, delivery pdf and forms of payment. *Doors measurements do not include the gaps between jambs.</text>
<rect x="5.4" y="423.4" width="498.4" height="99.8" fill="none" stroke="#1e1e1e" stroke-width="1.1"/>
<line x1="113.4" y1="423.4" x2="113.4" y2="523.2" stroke="#1e1e1e" stroke-width="1.1"/>
<line x1="309.4" y1="423.4" x2="309.4" y2="523.2" stroke="#1e1e1e" stroke-width="1.1"/>
<line x1="5.4" y1="461.4" x2="113.4" y2="461.4" stroke="#1e1e1e" stroke-width="1.1"/>
<line x1="5.4" y1="489.6" x2="55.4" y2="489.6" stroke="#1e1e1e" stroke-width="1.1"/>
<line x1="65.8" y1="489.6" x2="113.4" y2="489.6" stroke="#1e1e1e" stroke-width="1.1"/>
<text x="60.6" y="491.34" font-size="5.4" text-anchor="middle" stroke="#1c1c1c" stroke-width="0.2">or</text>
<text x="8.8" y="432.66" font-size="5.44" stroke="#1c1c1c" stroke-width="0.2">PRODUCT:</text>
<rect x="39" y="427.1" width="10.5" height="8.8" fill="#fff" stroke="#2a2a2a" stroke-width="0.8" rx="0.9"/>
<rect x="40.7" y="428.7" width="7.1" height="5.6" fill="#fff" stroke="#222" stroke-width="0.6"/>
<rect x="41.7" y="429.6" width="5.1" height="3.8" fill="#111" stroke="none"/>
<text x="51.6" y="433.76" font-size="5.72" stroke="#1c1c1c" stroke-width="0.2">Door</text>
<rect x="77.3" y="427.1" width="9.4" height="8.8" fill="#fff" stroke="#2a2a2a" stroke-width="0.8" rx="0.9"/>
<text x="89.2" y="433.79" font-size="5.81" stroke="#1c1c1c" stroke-width="0.2">Gate</text>
<rect x="39" y="438" width="10.5" height="8.7" fill="#fff" stroke="#2a2a2a" stroke-width="0.8" rx="0.9"/>
<text x="51.6" y="444.93" font-size="5.9" stroke="#1c1c1c" stroke-width="0.2">Window</text>
<rect x="77.3" y="438" width="9.4" height="8.7" fill="#fff" stroke="#2a2a2a" stroke-width="0.8" rx="0.9"/>
<text x="89.2" y="445.01" font-size="6.15" stroke="#1c1c1c" stroke-width="0.2">Railing</text>
<rect x="39" y="448.4" width="10.5" height="8.8" fill="#fff" stroke="#2a2a2a" stroke-width="0.8" rx="0.9"/>
<text x="51.6" y="455.64" font-size="5.68" stroke="#1c1c1c" stroke-width="0.2">Other</text>
<line x1="69.6" y1="456.1" x2="108.6" y2="456.1" stroke="#222" stroke-width="0.9"/>
<text x="8.8" y="469.18" font-size="5.5" stroke="#1c1c1c" stroke-width="0.2">DESIGN:</text>
<rect x="37.6" y="465.5" width="9.4" height="8.6" fill="#fff" stroke="#2a2a2a" stroke-width="0.8" rx="0.9"/>
<rect x="39.3" y="467.1" width="6" height="5.4" fill="#fff" stroke="#222" stroke-width="0.6"/>
<rect x="40.3" y="468" width="4" height="3.6" fill="#111" stroke="none"/>
<text x="49.5" y="472.49" font-size="5.81" stroke="#1c1c1c" stroke-width="0.2">Wrought Iron</text>
<text x="18.4" y="482.78" font-size="5.5" stroke="#1c1c1c" stroke-width="0.2">Name:</text>
<text x="39" y="482.85" font-size="5.7" stroke="#1c1c1c" stroke-width="0.2">CAMILLE</text>
<line x1="36.6" y1="483.3" x2="108.6" y2="483.3" stroke="#222" stroke-width="0.9"/>
<rect x="7.9" y="494" width="9.4" height="7.7" fill="#fff" stroke="#2a2a2a" stroke-width="0.8" rx="0.9"/>
<text x="19.2" y="500.76" font-size="6" stroke="#1c1c1c" stroke-width="0.2">Riva</text>
<line x1="31.3" y1="500.6" x2="69.6" y2="500.6" stroke="#222" stroke-width="0.9"/>
<line x1="91.9" y1="500.6" x2="108.6" y2="500.6" stroke="#222" stroke-width="0.9"/>
<text x="74.2" y="507.25" font-size="5.7" stroke="#1c1c1c" stroke-width="0.2">#Lites</text>
<rect x="7.9" y="509.4" width="9.4" height="8" fill="#fff" stroke="#2a2a2a" stroke-width="0.8" rx="0.9"/>
<text x="20.3" y="514.13" font-size="5.64" stroke="#1c1c1c" stroke-width="0.2">Standard</text>
<text x="20.9" y="520.36" font-size="5.45" stroke="#1c1c1c" stroke-width="0.2">(1 1/2")</text>
<rect x="43.4" y="509.4" width="9.2" height="8" fill="#fff" stroke="#2a2a2a" stroke-width="0.8" rx="0.9"/>
<text x="54.7" y="514.16" font-size="5.71" stroke="#1c1c1c" stroke-width="0.2">Slim</text>
<text x="54.7" y="520.41" font-size="5.58" stroke="#1c1c1c" stroke-width="0.2">(1 1/4")</text>
<rect x="73.1" y="509.4" width="9.4" height="8" fill="#fff" stroke="#2a2a2a" stroke-width="0.8" rx="0.9"/>
<text x="85" y="514.12" font-size="5.6" stroke="#1c1c1c" stroke-width="0.2">Super Slim</text>
<text x="85" y="520.4" font-size="5.57" stroke="#1c1c1c" stroke-width="0.2">(1/2") SDL</text>
<line x1="113.4" y1="459.3" x2="309.4" y2="459.3" stroke="#1e1e1e" stroke-width="1.1"/>
<line x1="113.4" y1="476.2" x2="309.4" y2="476.2" stroke="#1e1e1e" stroke-width="1.1"/>
<line x1="113.4" y1="493.5" x2="309.4" y2="493.5" stroke="#1e1e1e" stroke-width="1.1"/>
<line x1="113.4" y1="506.5" x2="309.4" y2="506.5" stroke="#1e1e1e" stroke-width="1.1"/>
<line x1="203.8" y1="476.2" x2="203.8" y2="493.5" stroke="#1e1e1e" stroke-width="1.1"/>
<text x="115.7" y="430.53" font-size="5.35" stroke="#1c1c1c" stroke-width="0.2">HANDLE</text>
<rect x="139.3" y="426.5" width="9.2" height="7.9" fill="#fff" stroke="#2a2a2a" stroke-width="0.8" rx="0.9"/>
<rect x="141" y="428.1" width="5.8" height="4.7" fill="#fff" stroke="#222" stroke-width="0.6"/>
<rect x="142" y="429" width="3.8" height="2.9" fill="#111" stroke="none"/>
<text x="150.5" y="432.05" font-size="5.7" stroke="#1c1c1c" stroke-width="0.2">Iron handle</text>
<text x="182" y="432.04" font-size="5.67" stroke="#1c1c1c" stroke-width="0.2">MODERN</text>
<line x1="179" y1="432.6" x2="233.7" y2="432.6" stroke="#222" stroke-width="0.9"/>
<text x="150.5" y="438.1" font-size="5" stroke="#1c1c1c" stroke-width="0.2">(with rollercatch and deadbolt prep)</text>
<rect x="139.3" y="438.6" width="9.2" height="7.7" fill="#fff" stroke="#2a2a2a" stroke-width="0.8" rx="0.9"/>
<text x="150.5" y="445.31" font-size="5.86" stroke="#1c1c1c" stroke-width="0.2">American standard double boring</text>
<rect x="139.3" y="448.8" width="9.2" height="7.6" fill="#fff" stroke="#2a2a2a" stroke-width="0.8" rx="0.9"/>
<text x="150.5" y="455.66" font-size="5.72" stroke="#1c1c1c" stroke-width="0.2">Other:</text>
<line x1="169.6" y1="456.1" x2="226" y2="456.1" stroke="#222" stroke-width="0.9"/>
<rect x="247.2" y="426.9" width="8.9" height="7.5" fill="#fff" stroke="#2a2a2a" stroke-width="0.8" rx="0.9"/>
<text x="260.1" y="433.39" font-size="5.8" stroke="#1c1c1c" stroke-width="0.2">Panic hardware</text>
<rect x="247.2" y="437.3" width="8.9" height="7.4" fill="#fff" stroke="#2a2a2a" stroke-width="0.8" rx="0.9"/>
<text x="258.2" y="443.62" font-size="5.9" stroke="#1c1c1c" stroke-width="0.2">Autocloser #</text>
<line x1="289" y1="444" x2="304" y2="444" stroke="#222" stroke-width="0.9"/>
<rect x="247.2" y="448.4" width="8.9" height="7.3" fill="#fff" stroke="#2a2a2a" stroke-width="0.8" rx="0.9"/>
<text x="258.2" y="454.4" font-size="6.11" stroke="#1c1c1c" stroke-width="0.2">P. Bar #</text>
<line x1="276.4" y1="454.6" x2="291" y2="454.6" stroke="#222" stroke-width="0.9"/>
<text x="115.7" y="465.14" font-size="5.93" stroke="#1c1c1c" stroke-width="0.2">COLOR</text>
<rect x="115.7" y="466.6" width="17.7" height="7.9" fill="none" stroke="#2a2a2a" stroke-width="0.8" rx="0.8"/>
<text x="117.8" y="472.43" font-size="5.64" stroke="#1c1c1c" stroke-width="0.2">Black</text>
<text x="137.6" y="472.49" font-size="5.82" stroke="#1c1c1c" stroke-width="0.2">Dark ORB</text>
<text x="169.6" y="472.52" font-size="5.9" stroke="#1c1c1c" stroke-width="0.2">Medium ORB</text>
<text x="212.2" y="472.5" font-size="5.83" stroke="#1c1c1c" stroke-width="0.2">Heavy ORB</text>
<text x="249.9" y="472.49" font-size="5.82" stroke="#1c1c1c" stroke-width="0.2">Pewter</text>
<text x="274.7" y="472.54" font-size="5.94" stroke="#1c1c1c" stroke-width="0.2">Antique gold</text>
<text x="115.7" y="482.8" font-size="5.56" stroke="#1c1c1c" stroke-width="0.2">ACTIVE DOOR</text>
<rect x="153.3" y="484.6" width="8.3" height="7.1" fill="#fff" stroke="#2a2a2a" stroke-width="0.8" rx="0.9"/>
<rect x="155" y="486.2" width="4.9" height="3.9" fill="#fff" stroke="#222" stroke-width="0.6"/>
<rect x="156" y="487.1" width="2.9" height="2.1" fill="#111" stroke="none"/>
<text x="163.7" y="490.64" font-size="5.95" stroke="#1c1c1c" stroke-width="0.2">Right</text>
<rect x="180.4" y="484.6" width="9" height="7.1" fill="#fff" stroke="#2a2a2a" stroke-width="0.8" rx="0.9"/>
<text x="191.3" y="490.72" font-size="6.18" stroke="#1c1c1c" stroke-width="0.2">Left</text>
<text x="206.5" y="482.83" font-size="5.64" stroke="#1c1c1c" stroke-width="0.2">SWING</text>
<rect x="229.4" y="484" width="9" height="7.7" fill="#fff" stroke="#2a2a2a" stroke-width="0.8" rx="0.9"/>
<rect x="231.1" y="485.6" width="5.6" height="4.5" fill="#fff" stroke="#222" stroke-width="0.6"/>
<rect x="232.1" y="486.5" width="3.6" height="2.7" fill="#111" stroke="none"/>
<text x="240.3" y="490.53" font-size="5.64" stroke="#1c1c1c" stroke-width="0.2">In</text>
<rect x="252.8" y="484" width="8.6" height="7.7" fill="#fff" stroke="#2a2a2a" stroke-width="0.8" rx="0.9"/>
<text x="263.9" y="490.53" font-size="5.65" stroke="#1c1c1c" stroke-width="0.2">Out</text>
<text x="115.7" y="500.04" font-size="5.4" stroke="#1c1c1c" stroke-width="0.2">JAMB:</text>
<text x="140.3" y="500.62" font-size="5.6" stroke="#1c1c1c" stroke-width="0.2">6"</text>
<line x1="134.5" y1="502.3" x2="162" y2="502.3" stroke="#222" stroke-width="0.9"/>
<text x="116.3" y="513.63" font-size="5.37" stroke="#1c1c1c" stroke-width="0.2">THRESHOLD</text>
<rect x="150.8" y="511.5" width="9.4" height="8.4" fill="#fff" stroke="#2a2a2a" stroke-width="0.8" rx="0.9"/>
<rect x="152.5" y="513.1" width="6" height="5.2" fill="#fff" stroke="#222" stroke-width="0.6"/>
<rect x="153.5" y="514" width="4" height="3.4" fill="#111" stroke="none"/>
<text x="162" y="518.35" font-size="5.7" stroke="#1c1c1c" stroke-width="0.2">Residential</text>
<rect x="191.3" y="511.5" width="8.5" height="8.4" fill="#fff" stroke="#2a2a2a" stroke-width="0.8" rx="0.9"/>
<text x="201.9" y="518.4" font-size="5.83" stroke="#1c1c1c" stroke-width="0.2">Commercial</text>
<line x1="233.6" y1="518.8" x2="259.7" y2="518.8" stroke="#222" stroke-width="0.9"/>
<rect x="263.4" y="511.5" width="8.8" height="7.9" fill="#fff" stroke="#2a2a2a" stroke-width="0.8" rx="0.9"/>
<text x="274.3" y="518.48" font-size="6.06" stroke="#1c1c1c" stroke-width="0.2">N/A</text>
<line x1="286.4" y1="518.8" x2="301.5" y2="518.8" stroke="#222" stroke-width="0.9"/>
<line x1="309.4" y1="440.5" x2="503.8" y2="440.5" stroke="#1e1e1e" stroke-width="1.1"/>
<line x1="309.4" y1="455.3" x2="503.8" y2="455.3" stroke="#1e1e1e" stroke-width="1.1"/>
<line x1="309.4" y1="474.5" x2="503.8" y2="474.5" stroke="#1e1e1e" stroke-width="1.1"/>
<line x1="309.4" y1="491.2" x2="503.8" y2="491.2" stroke="#1e1e1e" stroke-width="1.1"/>
<line x1="309.4" y1="508.4" x2="503.8" y2="508.4" stroke="#1e1e1e" stroke-width="1.1"/>
<line x1="379.2" y1="440.5" x2="379.2" y2="455.3" stroke="#1e1e1e" stroke-width="1.4"/>
<line x1="389.4" y1="455.3" x2="389.4" y2="474.5" stroke="#1e1e1e" stroke-width="1.1"/>
<line x1="403.8" y1="491.2" x2="403.8" y2="508.4" stroke="#1e1e1e" stroke-width="1.1"/>
<line x1="469.3" y1="508.4" x2="469.3" y2="523.2" stroke="#1e1e1e" stroke-width="1.1"/>
<text x="315" y="429.98" font-size="5.51" stroke="#1c1c1c" stroke-width="0.2">DOOR/Glass type:</text>
<text x="320.9" y="436.95" font-size="5.97" stroke="#1c1c1c" stroke-width="0.2">Frost</text>
<text x="348.7" y="436.89" font-size="5.8" stroke="#1c1c1c" stroke-width="0.2">Aquatex</text>
<text x="384.6" y="436.92" font-size="5.88" stroke="#1c1c1c" stroke-width="0.2">Rain</text>
<text x="414.9" y="436.85" font-size="5.68" stroke="#1c1c1c" stroke-width="0.2">Flemish</text>
<rect x="446.4" y="431.1" width="27.1" height="6.9" fill="none" stroke="#2a2a2a" stroke-width="0.9" rx="0.8"/>
<text x="453.9" y="436.62" font-size="5.61" stroke="#1c1c1c" stroke-width="0.2">Clear</text>
<line x1="453.9" y1="437" x2="467.3" y2="437" stroke="#222" stroke-width="0.5"/>
<text x="491.9" y="436.83" font-size="5.64" stroke="#1c1c1c" stroke-width="0.2">N/A</text>
<rect x="317.1" y="443.8" width="8.7" height="7.8" fill="#fff" stroke="#2a2a2a" stroke-width="0.8" rx="0.9"/>
<text x="328" y="450.08" font-size="5.79" stroke="#1c1c1c" stroke-width="0.2">Hurricane rated</text>
<rect x="394" y="443.8" width="8.8" height="7.8" fill="#fff" stroke="#2a2a2a" stroke-width="0.8" rx="0.9"/>
<rect x="395.7" y="445.4" width="5.4" height="4.6" fill="#fff" stroke="#222" stroke-width="0.6"/>
<rect x="396.7" y="446.3" width="3.4" height="2.8" fill="#111" stroke="none"/>
<text x="404.9" y="450.07" font-size="5.76" stroke="#1c1c1c" stroke-width="0.2">Operable</text>
<rect x="430" y="443.8" width="8.8" height="7.8" fill="#fff" stroke="#2a2a2a" stroke-width="0.8" rx="0.9"/>
<text x="441.2" y="450.28" font-size="7.45" fill="#222" stroke="#1c1c1c" stroke-width="0.2">Screen or</text>
<rect x="478.3" y="443.8" width="8.4" height="7.8" fill="#fff" stroke="#2a2a2a" stroke-width="0.8" rx="0.9"/>
<text x="488.8" y="449.99" font-size="5.52" stroke="#1c1c1c" stroke-width="0.2">Fixed</text>
<text x="315" y="461.37" font-size="5.2" stroke="#1c1c1c" stroke-width="0.2">TRANSOM</text>
<text x="315.7" y="468.56" font-size="5.46" stroke="#1c1c1c" stroke-width="0.2">Glass type:</text>
<line x1="343.2" y1="471" x2="377" y2="471" stroke="#222" stroke-width="0.9"/>
<text x="393" y="461.47" font-size="5.48" stroke="#1c1c1c" stroke-width="0.2">SIDELIGHTS</text>
<text x="396.1" y="468.59" font-size="5.52" stroke="#1c1c1c" stroke-width="0.2">Glass type:</text>
<line x1="424.2" y1="471" x2="456.8" y2="471" stroke="#222" stroke-width="0.9"/>
<rect x="465.2" y="462.6" width="8.3" height="7.3" fill="#fff" stroke="#2a2a2a" stroke-width="0.8" rx="0.9"/>
<text x="475.8" y="468.47" font-size="5.74" stroke="#1c1c1c" stroke-width="0.2">Screen</text>
<text x="315" y="480.56" font-size="5.16" stroke="#1c1c1c" stroke-width="0.2">TRIM</text>
<rect x="331.2" y="478.7" width="8.5" height="7.7" fill="#fff" stroke="#2a2a2a" stroke-width="0.8" rx="0.9"/>
<text x="341.8" y="485" font-size="5.85" stroke="#1c1c1c" stroke-width="0.2">Inside</text>
<line x1="360" y1="485.6" x2="378" y2="485.6" stroke="#222" stroke-width="0.9"/>
<rect x="384.6" y="478.7" width="8.8" height="7.7" fill="#fff" stroke="#2a2a2a" stroke-width="0.8" rx="0.9"/>
<text x="395.7" y="484.95" font-size="5.69" stroke="#1c1c1c" stroke-width="0.2">Outside</text>
<line x1="417.7" y1="485.6" x2="435.9" y2="485.6" stroke="#222" stroke-width="0.9"/>
<rect x="456.3" y="478.7" width="8.9" height="7.7" fill="#fff" stroke="#2a2a2a" stroke-width="0.8" rx="0.9"/>
<rect x="458" y="480.3" width="5.5" height="4.5" fill="#fff" stroke="#222" stroke-width="0.6"/>
<rect x="459" y="481.2" width="3.5" height="2.7" fill="#111" stroke="none"/>
<text x="467.3" y="484.87" font-size="5.46" stroke="#1c1c1c" stroke-width="0.2">N/A</text>
<text x="315" y="497.84" font-size="5.67" stroke="#1c1c1c" stroke-width="0.2">PACKAGE</text>
<rect x="343.8" y="496" width="8.8" height="7.8" fill="#fff" stroke="#2a2a2a" stroke-width="0.8" rx="0.9"/>
<rect x="345.5" y="497.6" width="5.4" height="4.6" fill="#fff" stroke="#222" stroke-width="0.6"/>
<rect x="346.5" y="498.5" width="3.4" height="2.8" fill="#111" stroke="none"/>
<text x="354.7" y="502.26" font-size="5.45" stroke="#1c1c1c" stroke-width="0.2">Box</text>
<rect x="368.3" y="496" width="8.6" height="7.8" fill="#fff" stroke="#2a2a2a" stroke-width="0.8" rx="0.9"/>
<text x="379" y="502.36" font-size="5.71" stroke="#1c1c1c" stroke-width="0.2">No box</text>
<rect x="409.3" y="495.8" width="8.8" height="7.6" fill="#fff" stroke="#2a2a2a" stroke-width="0.8" rx="0.9"/>
<text x="419.8" y="502.27" font-size="5.74" stroke="#1c1c1c" stroke-width="0.2">Install</text>
<rect x="439" y="495.8" width="8.5" height="7.6" fill="#fff" stroke="#2a2a2a" stroke-width="0.8" rx="0.9"/>
<text x="449.7" y="502.26" font-size="5.73" stroke="#1c1c1c" stroke-width="0.2">Delivery</text>
<rect x="473.7" y="495.8" width="8.8" height="7.6" fill="#fff" stroke="#2a2a2a" stroke-width="0.8" rx="0.9"/>
<text x="484.2" y="502.21" font-size="5.58" stroke="#1c1c1c" stroke-width="0.2">LTL</text>
<text x="311.9" y="514.8" font-size="5.56" stroke="#1c1c1c" stroke-width="0.2">GLASS TEMPLATE</text>
<rect x="362.9" y="512.8" width="8.8" height="7.2" fill="#fff" stroke="#2a2a2a" stroke-width="0.8" rx="0.9"/>
<text x="374.2" y="518.66" font-size="5.74" stroke="#1c1c1c" stroke-width="0.2">Sent #Pieces</text>
<line x1="408" y1="518.8" x2="433.8" y2="518.8" stroke="#222" stroke-width="0.9"/>
<rect x="441" y="511.5" width="9" height="7.5" fill="#fff" stroke="#2a2a2a" stroke-width="0.8" rx="0.9"/>
<text x="452" y="517.79" font-size="5.52" stroke="#1c1c1c" stroke-width="0.2">N/A</text>
<text x="472.5" y="516.68" font-size="5.78" stroke="#1c1c1c" stroke-width="0.2">GAUGE: 14</text>
<rect x="503.8" y="423.4" width="122.7" height="99" fill="none" stroke="#222" stroke-width="1"/>
<text x="508.2" y="433.85" font-size="7.07" fill="#222" stroke="#222" stroke-width="0.18" >*Notes:</text>
<text x="508.2" y="441.28" font-size="7.16" fill="#c8232a" stroke="#c8232a" stroke-width="0.18" >-Color: Black</text>
<text x="508.2" y="450.59" font-size="7.2" fill="#c8232a" stroke="#c8232a" stroke-width="0.18" >-Pull: Modern</text>
<text x="508.2" y="462.1" font-size="7.23" fill="#c8232a" stroke="#c8232a" stroke-width="0.18" >-Glass:5/8"  Clear</text>
<line x1="633" y1="499" x2="758.5" y2="499" stroke="#222" stroke-width="1.3"/>
<text x="643" y="511.26" font-size="9.05" stroke="#1c1c1c" stroke-width="0.24" >CUSTOMERS APPROVAL</text>
</g>
</svg>
</body>
</html>
